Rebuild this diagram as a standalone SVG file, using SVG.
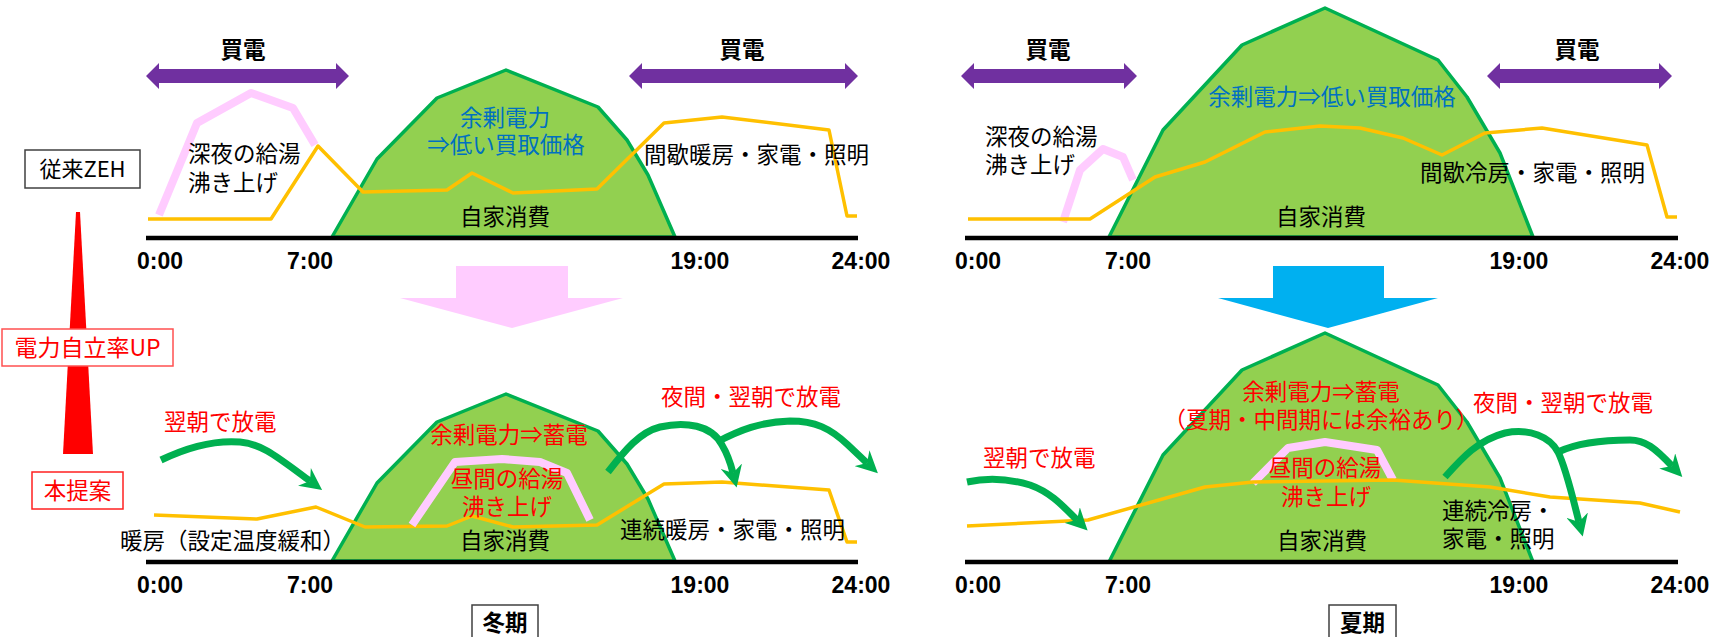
<svg xmlns="http://www.w3.org/2000/svg" width="1729" height="637" viewBox="0 0 1729 637">
<style>
.jp{font-family:"Noto Sans CJK JP","Liberation Sans",sans-serif;font-size:22.5px;fill:#000}
.b{font-weight:bold}
.red{fill:#FF0000}
.blue{fill:#0070C0}
.t{font-family:"Liberation Sans","Noto Sans CJK JP",sans-serif;font-weight:bold;font-size:23px;fill:#000;text-anchor:middle}
.mid{text-anchor:middle}
.hill{fill:#92D050;stroke:#00B050;stroke-width:3.5;stroke-linejoin:round}
.axis{stroke:#000;stroke-width:4.5}
.load{fill:none;stroke:#FFC000;stroke-width:3.5;stroke-linejoin:round}
.hot{fill:none;stroke:#FFCCFF;stroke-width:8;stroke-linejoin:round}
.buy{fill:#7030A0}
.dis{fill:none;stroke:#00B050;stroke-width:7;marker-end:url(#ah)}
.box{fill:#fff;stroke:#404040;stroke-width:1.5}
.rbox{fill:#fff;stroke:#FF5050;stroke-width:1.5}
</style>
<defs>
<marker id="ah" markerUnits="userSpaceOnUse" viewBox="0 0 22 22" refX="7" refY="11" markerWidth="22" markerHeight="22" orient="auto">
<path d="M0,0 L22,11 L0,22 L7,11 z" fill="#00B050"/>
</marker>
</defs>
<rect width="1729" height="637" fill="#fff"/>

<!-- Winter conventional -->
<g id="winter-conventional">
<polygon class="hill" points="332,237 377,159 437,98 506,70 598,107 627,140 648,175 675,237"/>
<polyline class="hot" points="159,215 197,123 251,93 293,108 315,145"/>
<polyline class="load" points="148,219 271,219 318,146 363,192 447,190 472,173 513,193 597,189 664,123 722,117 829,130 847,216 857,216"/>
<line class="axis" x1="146" y1="238" x2="858" y2="238"/>
<text class="jp b mid" x="243" y="58">買電</text>
<text class="jp b mid" x="742" y="58">買電</text>
<text class="jp" x="188" y="162">深夜の給湯</text>
<text class="jp" x="188" y="191">沸き上げ</text>
<text class="jp blue mid" x="505" y="126">余剰電力</text>
<text class="jp blue mid" x="506" y="153">⇒低い買取価格</text>
<text class="jp mid" x="505" y="225">自家消費</text>
<text class="jp" x="644" y="163">間歇暖房・家電・照明</text>
<text class="t" x="160" y="269">0:00</text>
<text class="t" x="310" y="269">7:00</text>
<text class="t" x="700" y="269">19:00</text>
<text class="t" x="861" y="269">24:00</text>
</g>

<!-- Summer conventional -->
<g id="summer-conventional">
<polygon class="hill" points="1109,237 1163,130 1242,45 1325,8 1438,60 1467,97 1500,153 1533,237"/>
<polyline class="hot" points="1063,222 1080,170 1103,149 1123,157 1133,180"/>
<polyline class="load" points="968,219 1090,219 1155,177 1205,162 1265,132 1320,126 1360,128 1403,138 1442,155 1485,133 1542,128 1647,145 1667,217 1677,217"/>
<line class="axis" x1="965" y1="238" x2="1678" y2="238"/>
<text class="jp b mid" x="1048" y="58">買電</text>
<text class="jp b mid" x="1577" y="58">買電</text>
<text class="jp" x="985" y="145">深夜の給湯</text>
<text class="jp" x="985" y="173">沸き上げ</text>
<text class="jp blue mid" x="1332" y="105">余剰電力⇒低い買取価格</text>
<text class="jp mid" x="1321" y="225">自家消費</text>
<text class="jp" x="1420" y="181">間歇冷房・家電・照明</text>
<text class="t" x="978" y="269">0:00</text>
<text class="t" x="1128" y="269">7:00</text>
<text class="t" x="1519" y="269">19:00</text>
<text class="t" x="1680" y="269">24:00</text>
</g>

<!-- Winter proposal -->
<g id="winter-proposal">
<polygon class="hill" points="332,561 377,483 437,422 506,394 598,431 627,464 648,499 675,561"/>
<polyline class="load" points="154,515 257,519 316,507 365,527 447,526 472,516 513,527 597,525 664,484 722,482 829,490 847,542 857,542"/>
<polyline class="hot" points="412,525 455,462 502,459 540,462 567,473 590,520"/>
<line class="axis" x1="146" y1="562" x2="858" y2="562"/>
<text class="jp red" x="164" y="430">翌朝で放電</text>
<text class="jp red mid" x="509" y="443">余剰電力⇒蓄電</text>
<text class="jp red mid" x="507" y="487">昼間の給湯</text>
<text class="jp red mid" x="507" y="515">沸き上げ</text>
<text class="jp mid" x="505" y="549">自家消費</text>
<text class="jp" x="120" y="549">暖房（設定温度緩和）</text>
<text class="jp" x="620" y="538">連続暖房・家電・照明</text>
<text class="jp red" x="661" y="405">夜間・翌朝で放電</text>
<text class="t" x="160" y="593">0:00</text>
<text class="t" x="310" y="593">7:00</text>
<text class="t" x="700" y="593">19:00</text>
<text class="t" x="861" y="593">24:00</text>
</g>

<!-- Summer proposal -->
<g id="summer-proposal">
<polygon class="hill" points="1109,562 1163,455 1242,370 1325,333 1438,385 1467,422 1500,478 1533,562"/>
<polyline class="hot" points="1253,483 1288,448 1325,442 1377,450 1393,480"/>
<polyline class="load" points="967,526 1088,520 1205,487 1253,482 1393,480 1490,487 1550,497 1640,503 1680,512"/>
<line class="axis" x1="965" y1="562" x2="1678" y2="562"/>
<text class="jp red mid" x="1321" y="400">余剰電力⇒蓄電</text>
<text class="jp red mid" x="1321" y="428">（夏期・中間期には余裕あり）</text>
<text class="jp red" x="983" y="466">翌朝で放電</text>
<text class="jp red mid" x="1325" y="476">昼間の給湯</text>
<text class="jp red mid" x="1326" y="505">沸き上げ</text>
<text class="jp mid" x="1322" y="549">自家消費</text>
<text class="jp" x="1442" y="519">連続冷房・</text>
<text class="jp" x="1442" y="547">家電・照明</text>
<text class="jp red" x="1473" y="411">夜間・翌朝で放電</text>
<text class="t" x="978" y="593">0:00</text>
<text class="t" x="1128" y="593">7:00</text>
<text class="t" x="1519" y="593">19:00</text>
<text class="t" x="1680" y="593">24:00</text>
</g>

<!-- Side labels -->
<g id="label-conventional">
<rect class="box" x="25" y="150" width="115" height="38"/>
<text class="jp mid" x="82.5" y="177" style="font-size:22px">従来ZEH</text>
</g>
<g id="up-indicator">
<polygon points="76,212 80,212 93,454 63,454" fill="#FF0000"/>
</g>
<g id="label-up">
<rect class="rbox" x="2" y="329" width="171" height="37"/>
<text class="jp red mid" x="87.5" y="356" style="font-size:23px">電力自立率UP</text>
</g>
<g id="label-proposal">
<rect class="rbox" x="32" y="472" width="91" height="37" style="stroke:#FF2020"/>
<text class="jp red mid" x="77.5" y="499">本提案</text>
</g>
<g id="label-winter">
<rect class="box" x="472" y="605" width="66" height="40"/>
<text class="jp b mid" x="505" y="631">冬期</text>
</g>
<g id="label-summer">
<rect class="box" x="1329" y="605" width="67" height="40"/>
<text class="jp b mid" x="1362.5" y="631">夏期</text>
</g>

<!-- Connectors -->
<g id="connectors">
<polygon class="buy" points="146,76 159,63 159,69 336,69 336,63 349,76 336,89 336,83 159,83 159,89"/>
<polygon class="buy" points="629,76 642,63 642,69 845,69 845,63 858,76 845,89 845,83 642,83 642,89"/>
<polygon class="buy" points="961,76 974,63 974,69 1124,69 1124,63 1137,76 1124,89 1124,83 974,83 974,89"/>
<polygon class="buy" points="1487,76 1500,63 1500,69 1659,69 1659,63 1672,76 1659,89 1659,83 1500,83 1500,89"/>
<polygon points="456,266 568,266 568,298 623,298 512,328 400,298 456,298" fill="#FFCCFF"/>
<polygon points="1273,266 1384,266 1384,298 1438,298 1328,328 1218,298 1273,298" fill="#00B0F0"/>
<path class="dis" d="M161,460 C190,446 215,440 240,442 C262,444 276,456 310,481"/>
<path class="dis" d="M608,472 C625,450 640,432 660,427 C685,421 712,425 722,445 C728,455 731,465 733,473"/>
<path class="dis" d="M717,442 C740,430 760,422 790,421 C815,421 830,428 848,445 L867,463"/>
<path class="dis" d="M967,482 C990,477 1010,479 1030,485 C1050,492 1062,505 1077,520"/>
<path class="dis" d="M1445,477 C1462,458 1478,440 1505,433 C1530,428 1550,437 1558,452 C1566,468 1572,495 1579,522"/>
<path class="dis" d="M1558,452 C1575,444 1600,440 1630,440 C1645,440 1655,448 1672,466"/>
</g>
</svg>
